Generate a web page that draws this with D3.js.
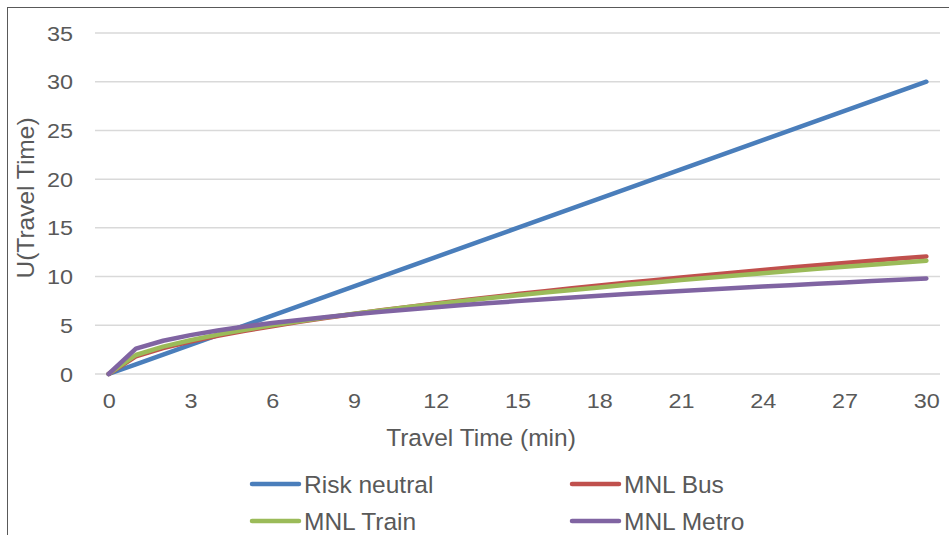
<!DOCTYPE html>
<html>
<head>
<meta charset="utf-8">
<script src="https://cdn.jsdelivr.net/npm/d3@7"></script>
<style>
  html, body { margin: 0; padding: 0; background: #fff; }
  svg { display: block; font-family: "Liberation Sans", Arial, sans-serif; }
</style>
</head>
<body>
<svg id="chart" width="949" height="535"></svg>
<script>
// Travel time categories (minutes)
const travelTimes = d3.range(0, 31);

// Utility values per travel time
const riskNeutral = [0, 1, 2, 3, 4, 5, 6, 7, 8, 9, 10, 11, 12, 13, 14, 15,
  16, 17, 18, 19, 20, 21, 22, 23, 24, 25, 26, 27, 28, 29, 30];
const mnlBus = [0, 1.80, 2.65, 3.33, 3.91, 4.43, 4.91, 5.35, 5.77, 6.16, 6.54,
  6.89, 7.24, 7.57, 7.89, 8.20, 8.50, 8.80, 9.08, 9.36, 9.63, 9.90, 10.16,
  10.42, 10.67, 10.92, 11.16, 11.40, 11.63, 11.86, 12.07];
const mnlTrain = [0, 1.95, 2.81, 3.47, 4.04, 4.54, 5.00, 5.42, 5.81, 6.18, 6.53,
  6.87, 7.19, 7.50, 7.79, 8.08, 8.36, 8.63, 8.89, 9.15, 9.40, 9.64, 9.88,
  10.11, 10.34, 10.57, 10.79, 11.00, 11.21, 11.42, 11.63];
const mnlMetro = [0, 2.60, 3.41, 3.99, 4.46, 4.87, 5.23, 5.55, 5.85, 6.13, 6.38,
  6.62, 6.85, 7.07, 7.28, 7.48, 7.67, 7.85, 8.03, 8.20, 8.36, 8.52, 8.68,
  8.83, 8.98, 9.12, 9.26, 9.40, 9.54, 9.67, 9.80];

const seriesNames = ["Risk neutral", "MNL Bus", "MNL Train", "MNL Metro"];
const seriesColors = ["#4A7EBB", "#C0504D", "#9BBB59", "#8064A2"];
const seriesValues = [riskNeutral, mnlBus, mnlTrain, mnlMetro];

const xTicks = [0, 3, 6, 9, 12, 15, 18, 21, 24, 27, 30];
const yTicks = [0, 5, 10, 15, 20, 25, 30, 35];

const svg = d3.select("#chart");
const textColor = "#595959";

// Outer chart frame
svg.append("rect")
  .attr("x", 7.5).attr("y", 7.5)
  .attr("width", 1000).attr("height", 1000)
  .attr("fill", "none")
  .attr("stroke", "#595959")
  .attr("stroke-width", 1);

const plot = { left: 95, right: 940, top: 33, bottom: 374 };

const x = d3.scaleLinear().domain([-0.5, 30.5]).range([plot.left, plot.right]);
const y = d3.scaleLinear().domain([0, 35]).range([plot.bottom, plot.top]);

// Horizontal gridlines
svg.append("g")
  .selectAll("line")
  .data(yTicks)
  .join("line")
  .attr("x1", plot.left).attr("x2", plot.right)
  .attr("y1", d => y(d)).attr("y2", d => y(d))
  .attr("stroke", "#D9D9D9")
  .attr("stroke-width", 1.5);

// Tick labels use a slightly widened face
const tickFont = "19.5px";
const tickStretch = "scale(1.2,1)";

// Y axis labels
const yAxis = d3.axisLeft(y).tickValues(yTicks).tickSize(0).tickPadding(0);
const gy = svg.append("g").attr("transform", `translate(73,0)`).call(yAxis);
gy.select(".domain").remove();
gy.selectAll("text")
  .attr("x", 0)
  .attr("fill", textColor)
  .style("font-size", tickFont)
  .attr("dy", "0.36em")
  .attr("transform", tickStretch);

// X axis labels
const xAxis = d3.axisBottom(x).tickValues(xTicks).tickSize(0).tickPadding(0)
  .tickFormat(d3.format("d"));
const gx = svg.append("g").attr("transform", `translate(0,401)`).call(xAxis);
gx.select(".domain").remove();
gx.selectAll("text")
  .attr("y", 0)
  .attr("dy", "0.36em")
  .attr("fill", textColor)
  .style("font-size", tickFont)
  .attr("transform", tickStretch);

// Axis titles
svg.append("text")
  .attr("x", 481)
  .attr("y", 446)
  .attr("text-anchor", "middle")
  .attr("fill", textColor)
  .style("font-size", "24.5px")
  .text("Travel Time (min)");

svg.append("text")
  .attr("transform", `translate(34,198) rotate(-90)`)
  .attr("text-anchor", "middle")
  .attr("fill", textColor)
  .style("font-size", "24.5px")
  .text("U(Travel Time)");

// Series lines
const line = d3.line()
  .x((d, i) => x(travelTimes[i]))
  .y(d => y(d));

svg.append("g")
  .selectAll("path")
  .data(seriesValues)
  .join("path")
  .attr("d", d => line(d))
  .attr("fill", "none")
  .attr("stroke", (d, i) => seriesColors[i])
  .attr("stroke-width", 4.5)
  .attr("stroke-linejoin", "round")
  .attr("stroke-linecap", "round");

// Legend
const legendPos = [
  { x: 252, y: 484 },
  { x: 572, y: 484 },
  { x: 252, y: 521 },
  { x: 572, y: 521 }
];
const legend = svg.append("g")
  .selectAll("g")
  .data(seriesNames)
  .join("g")
  .attr("transform", (d, i) => `translate(${legendPos[i].x},${legendPos[i].y})`);

legend.append("line")
  .attr("x1", 0).attr("x2", 47)
  .attr("y1", 0).attr("y2", 0)
  .attr("stroke", (d, i) => seriesColors[i])
  .attr("stroke-width", 4.5)
  .attr("stroke-linecap", "round");

legend.append("text")
  .attr("x", 52)
  .attr("y", 0)
  .attr("dy", "0.36em")
  .attr("fill", textColor)
  .style("font-size", "24.5px")
  .text(d => d);
</script>
</body>
</html>
